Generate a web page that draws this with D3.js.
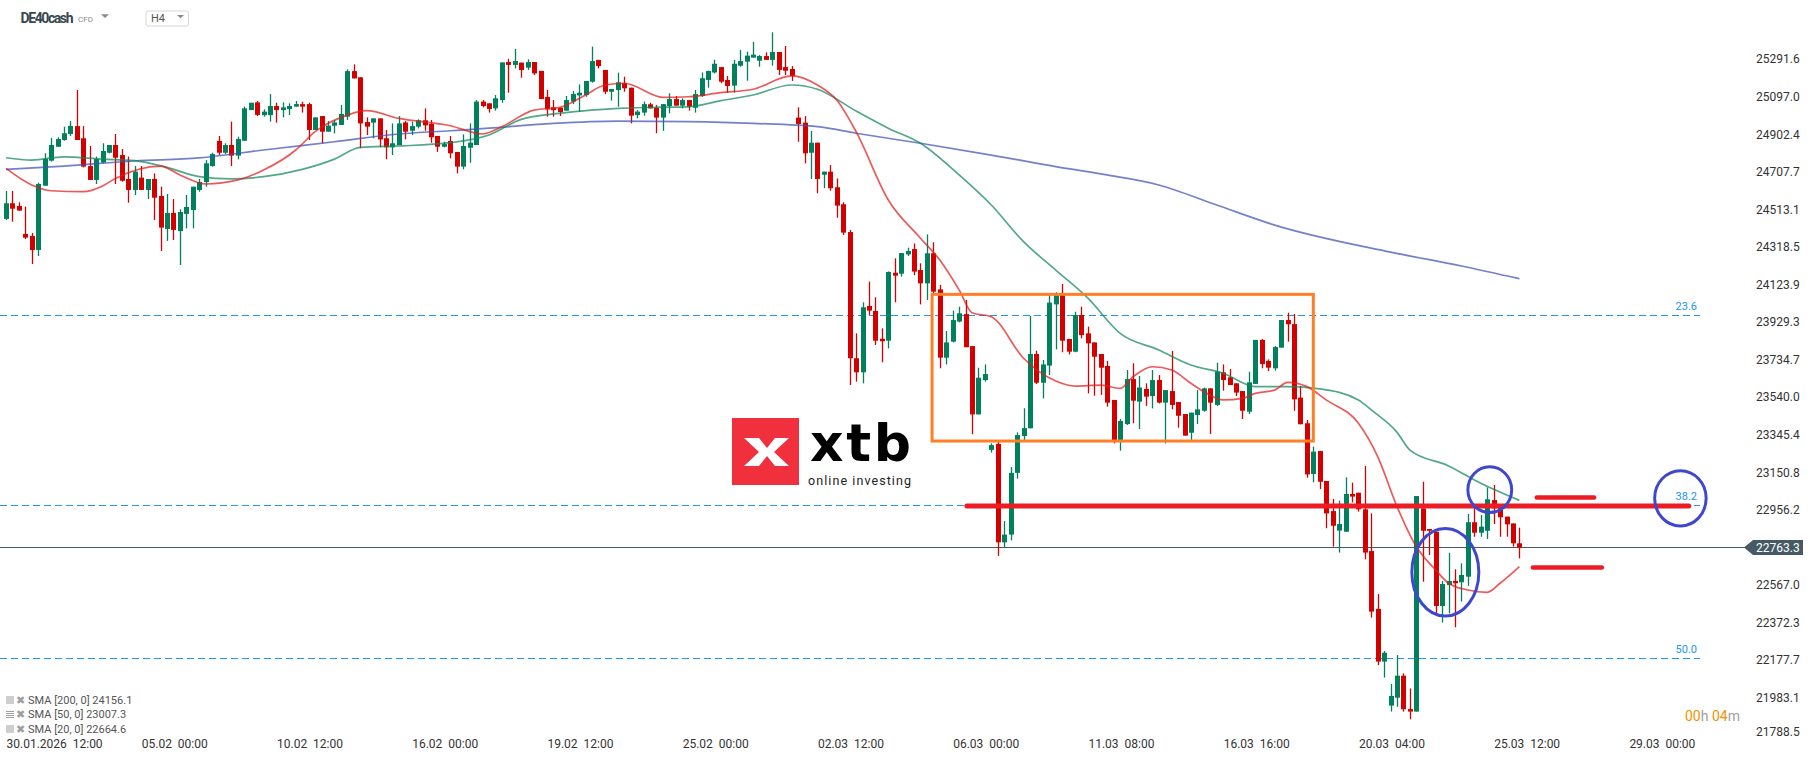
<!DOCTYPE html>
<html>
<head>
<meta charset="utf-8">
<script src="https://cdn.jsdelivr.net/npm/d3@7"></script>
<style>
  body { margin: 0; background: #fff; }
  svg { display: block; font-family: Roboto, "Noto Sans", sans-serif; }
  text { white-space: pre; }
</style>
</head>
<body>
<div id="chart"></div>
<script>
const W = 1816, H = 761;

// DE40cash H4 candles, 30.01.2026 12:00 .. 26.03 04:00
const opens = [
  24466,24547,24533,24388,24378,24305,24638,24768,24840,24875,24906,24947,
  24884,24740,24668,24758,24809,24849,24797,24673,24616,24680,24616,24673,
  24585,24414,24497,24403,24492,24512,24616,24657,24740,24870,24809,24849,
  24794,24871,25030,25070,25004,25004,25051,25030,25035,25048,25061,25061,
  24927,24999,24918,24949,24953,24996,25232,25200,24968,24965,24987,24884,
  24837,24849,24966,24923,24944,24977,24958,24896,24840,24870,24813,24737,
  24835,24849,25074,25065,25039,25082,25279,25264,25276,25250,25279,25233,
  25098,25044,25042,25027,25074,25106,25108,25177,25290,25238,25125,25134,
  25169,25146,25004,25017,25060,25042,24991,25051,25087,25053,25082,25042,
  25103,25186,25225,25253,25186,25157,25260,25281,25302,25286,25310,25290,
  25331,25253,25243,24991,24965,24809,24861,24695,24711,24630,24542,24398,
  23744,23671,24015,23989,23845,23835,24187,24182,24282,24310,24201,24132,
  24288,24101,23747,23830,23934,23973,23807,23453,23631,23269,23300,22790,
  22830,23150,23341,23381,23766,23617,23706,24023,24072,23844,23778,23968,
  23873,23826,23766,23704,23528,23320,23403,23636,23519,23585,23548,23631,
  23514,23574,23517,23455,23358,23450,23472,23588,23502,23671,23645,23614,
  23574,23467,23611,23839,23730,23692,23799,23942,23921,23540,23407,23144,
  23263,23108,22952,22851,22845,23041,23047,22961,22745,22445,22172,21944,
  21985,22099,21926,21913,22966,22859,22845,22460,22569,22590,22583,22612,
  22894,22840,22850,23009,22975,22923,22888,22785
];
const highs = [
  24611,24611,24552,24530,24393,24654,24806,24885,24889,24944,24973,25134,
  24947,24844,24789,24858,24849,24906,24828,24789,24740,24740,24673,24702,
  24633,24595,24569,24516,24590,24633,24673,24771,24809,24896,24858,24970,
  24892,25048,25068,25077,25034,25113,25068,25070,25065,25077,25073,25068,
  24992,24999,24973,24979,25056,25241,25267,25200,24992,24987,24987,24927,
  24961,24999,24973,24970,24982,25039,24979,24896,24866,24896,24813,24904,
  24961,25082,25082,25065,25108,25277,25296,25347,25276,25293,25279,25233,
  25134,25082,25042,25103,25129,25163,25181,25359,25290,25238,25139,25224,
  25203,25146,25030,25074,25068,25056,25061,25117,25103,25091,25082,25134,
  25225,25233,25291,25253,25207,25290,25341,25333,25383,25315,25329,25433,
  25331,25362,25258,25044,24999,24922,24861,24711,24745,24676,24552,24409,
  23873,24034,24141,24060,23899,24194,24262,24289,24317,24339,24236,24386,
  24345,24124,23885,23991,24011,24046,23807,23695,23712,23303,23310,22900,
  23180,23360,23485,23963,23783,23735,24072,24086,24129,23844,23985,24011,
  23908,23826,23766,23730,23528,23429,23683,23718,23652,23614,23683,23657,
  23579,23782,23517,23455,23462,23579,23592,23588,23721,23712,23688,23614,
  23574,23674,23839,23844,23738,23807,23942,23980,23973,23600,23424,23286,
  23263,23108,23015,23006,23127,23099,23047,23186,22940,22522,22227,22056,
  22206,22111,22033,23030,23104,22859,22845,22590,22736,22650,22681,22937,
  22970,22932,23075,23087,22975,22923,22888,22866
];
const lows = [
  24460,24452,24509,24362,24232,24274,24638,24763,24840,24871,24896,24875,
  24733,24668,24647,24754,24806,24647,24659,24550,24590,24616,24569,24460,
  24300,24352,24357,24227,24417,24417,24607,24633,24737,24797,24802,24740,
  24775,24871,25030,24999,24996,24970,24965,24992,25004,25048,25017,24875,
  24927,24858,24918,24909,24953,24979,25194,24832,24901,24884,24837,24775,
  24797,24849,24878,24901,24935,24923,24861,24813,24837,24780,24702,24723,
  24757,24849,25044,25017,25027,25068,25120,25246,25198,25238,25212,25087,
  24996,24996,24999,25027,25061,25020,25099,25172,25246,25113,25079,25048,
  25125,24961,24987,25001,25039,24910,24923,25013,25053,25039,25027,25017,
  25099,25146,25220,25169,25120,25120,25255,25182,25302,25255,25290,25260,
  25212,25212,25181,24866,24754,24673,24599,24625,24612,24472,24383,23605,
  23623,23614,23968,23813,23723,23795,24034,24167,24274,24175,24023,24046,
  24080,23692,23712,23826,23930,23801,23350,23453,23623,23255,22720,22760,
  22800,23120,23320,23381,23610,23536,23657,23790,23775,23764,23775,23847,
  23562,23550,23554,23493,23303,23265,23398,23407,23377,23497,23484,23510,
  23303,23479,23384,23343,23320,23403,23467,23351,23497,23576,23605,23548,
  23429,23455,23611,23692,23678,23680,23799,23830,23472,23402,23125,23101,
  23066,22863,22768,22737,22845,22997,22949,22702,22400,22154,22089,21913,
  21938,21913,21873,21913,22586,22724,22408,22374,22422,22350,22483,22565,
  22819,22819,22807,22885,22819,22819,22768,22707
];
const closes = [
  24547,24519,24509,24369,24305,24647,24777,24849,24880,24910,24948,24875,
  24737,24668,24777,24818,24849,24783,24664,24616,24711,24616,24673,24576,
  24421,24497,24409,24502,24528,24633,24657,24754,24802,24809,24849,24794,
  24880,25039,25068,25005,25022,25051,25030,25044,25051,25061,25048,24927,
  24992,24918,24949,24966,25010,25232,25194,24961,24944,24987,24878,24837,
  24858,24961,24918,24947,24977,24951,24889,24840,24854,24806,24737,24844,
  24861,25074,25051,25036,25091,25277,25264,25284,25238,25279,25220,25087,
  25034,25030,25020,25082,25113,25120,25181,25284,25258,25125,25139,25174,
  25143,25001,25022,25061,25039,24991,25061,25087,25053,25082,25048,25113,
  25195,25233,25270,25177,25155,25270,25284,25312,25317,25310,25290,25331,
  25238,25234,25207,24958,24806,24861,24673,24711,24625,24535,24395,23744,
  23671,24008,23991,23835,23832,24191,24172,24289,24300,24193,24132,24288,
  24089,23747,23826,23942,23977,23801,23453,23643,23662,23294,22790,22830,
  23150,23346,23382,23766,23617,23712,24032,24072,23835,23778,23968,23864,
  23821,23752,23695,23514,23312,23419,23636,23524,23592,23545,23631,23514,
  23579,23502,23446,23343,23462,23479,23588,23514,23674,23631,23605,23566,
  23472,23619,23839,23714,23695,23802,23942,23920,23531,23402,23142,23260,
  23104,22940,22876,22885,23041,23027,22961,22737,22431,22172,22218,21994,
  22099,21925,21913,23030,22850,22850,22460,22574,22590,22578,22621,22894,
  22840,22871,23013,22966,22920,22883,22785,22763.3
];

// moving averages, [candle index, value] read at sample points
const sma200 = [[0,24723],[9,24740],[20,24766],[30,24782],[40,24823],[51,24866],[61,24906],[69,24923],
  [75,24936],[85,24961],[95,24973],[106,24970],[116,24961],[126,24944],[132,24910],[142,24858],
  [153,24797],[163,24737],[170,24699],[179,24642],[188,24538],[197,24434],[215,24294],[226,24222],[235,24156.1]];
const sma50 = [[0,24783],[4,24771],[9,24788],[15,24776],[20,24768],[25,24733],[30,24685],[35,24673],
  [40,24685],[46,24723],[51,24776],[55,24837],[61,24844],[69,24861],[75,24901],[80,24982],[85,25010],
  [90,25027],[95,25039],[100,25044],[106,25047],[111,25079],[116,25108],[122,25160],[126,25138],
  [132,25025],[137,24936],[142,24858],[148,24694],[153,24538],[158,24348],[163,24201],[168,24055],
  [173,23873],[179,23787],[184,23709],[189,23666],[194,23597],[199,23597],[204,23585],[210,23528],
  [212,23476],[216,23360],[218,23268],[224,23186],[229,23096],[235,23007.3]];
const sma20 = [[0,24728],[4,24642],[7,24612],[12,24607],[15,24637],[17,24676],[24,24740],[27,24694],
  [31,24647],[36,24668],[40,24719],[45,24823],[48,24918],[53,25004],[56,25027],[61,24987],[69,24949],
  [74,24906],[77,24944],[82,25030],[86,25044],[90,25108],[93,25160],[96,25169],[102,25096],[106,25099],
  [111,25120],[116,25138],[122,25207],[126,25160],[129,25082],[132,24918],[137,24564],[142,24366],
  [145,24253],[148,24098],[150,23980],[153,23959],[158,23744],[163,23626],[166,23600],[170,23605],
  [173,23588],[175,23648],[178,23700],[181,23683],[184,23614],[186,23571],[189,23528],[192,23536],
  [194,23562],[197,23579],[199,23619],[202,23597],[205,23528],[210,23407],[213,23234],[216,22975],
  [219,22767],[222,22647],[224,22578],[227,22543],[230,22531],[232,22578],[235,22664.6]];
const smaNames = ['SMA [200, 0] 24156.1', 'SMA [50, 0] 23007.3', 'SMA [20, 0] 22664.6'];

const yTicks = [25291.6,25097.0,24902.4,24707.7,24513.1,24318.5,24123.9,23929.3,23734.7,
  23540.0,23345.4,23150.8,22956.2,22567.0,22372.3,22177.7,21983.1,21788.5];
const xTickIdx = [0,21,42,63,84,105,126,147,168,189,210,231,252];
const xTickLabels = ['30.01.2026  12:00','05.02  00:00','10.02  12:00','16.02  00:00','19.02  12:00',
  '25.02  00:00','02.03  12:00','06.03  00:00','11.03  08:00','16.03  16:00','20.03  04:00',
  '25.03  12:00','29.03  00:00'];

// fibonacci levels
const fibNames = ['23.6','38.2','50.0'];
const fibPrices = [23968, 22984, 22189];

// drawn annotations in candle index / price
const boxIdx = [143.8, 203], boxPrice = [24075, 23315];
const redLines = [[149.2, 261.3, 22978, 5], [237.7, 246.6, 23023, 4.5], [237.1, 247.8, 22660, 4.5]];
const ellipses = [[223.5, 22635, 5.2, 227], [230.4, 23063, 3.4, 119], [260, 23018, 4.0, 143]];
const lastPrice = 22763.3;

const x = d3.scaleLinear().domain([0, 235]).range([6, 6 + 235 * 6.44]);
const y = d3.scaleLinear().domain([21788.5, 25291.6]).range([735.6, 59.6]);
const step = x(1) - x(0);
const plotBottom = 732;

const svg = d3.select('#chart').append('svg')
  .attr('width', W).attr('height', H);
svg.append('rect').attr('width', W).attr('height', H).attr('fill', '#fff');

// fib dashed levels
const gFib = svg.append('g');
fibPrices.forEach((p, k) => {
  gFib.append('line')
    .attr('x1', 0).attr('x2', 1700)
    .attr('y1', Math.round(y(p)) + 0.5).attr('y2', Math.round(y(p)) + 0.5)
    .attr('stroke', '#2196F3').attr('stroke-width', 1)
    .attr('stroke-dasharray', '7,4');
  gFib.append('text')
    .attr('x', 1697).attr('y', y(p) - 5)
    .attr('text-anchor', 'end')
    .attr('font-size', 11).attr('fill', '#2196F3')
    .text(fibNames[k]);
});

// last price line
svg.append('line')
  .attr('x1', 0).attr('x2', 1745)
  .attr('y1', Math.round(y(lastPrice)) + 0.5).attr('y2', Math.round(y(lastPrice)) + 0.5)
  .attr('stroke', '#455A64').attr('stroke-width', 1);

// candles
const data = opens.map((o, i) => ({ i, o, h: highs[i], l: lows[i], c: closes[i] }));
const up = '#00805C', down = '#D40000';
const gC = svg.append('g').attr('id', 'candles');
gC.selectAll('line.wick')
  .data(data)
  .join('line')
  .attr('class', 'wick')
  .attr('x1', d => Math.round(x(d.i)) + 0.5)
  .attr('x2', d => Math.round(x(d.i)) + 0.5)
  .attr('y1', d => y(d.h))
  .attr('y2', d => y(d.l))
  .attr('stroke', d => d.c >= d.o ? up : down)
  .attr('stroke-width', 1.3);
gC.selectAll('rect.body')
  .data(data)
  .join('rect')
  .attr('class', 'body')
  .attr('x', d => Math.round(x(d.i)) - 2)
  .attr('width', 5)
  .attr('y', d => y(Math.max(d.o, d.c)))
  .attr('height', d => Math.max(1.5, Math.abs(y(d.o) - y(d.c))))
  .attr('fill', d => d.c >= d.o ? up : down);

// moving averages
const line = d3.line().x(d => x(d[0])).y(d => y(d[1])).curve(d3.curveMonotoneX);
[[sma200, '#3F51B5'], [sma50, '#11875A'], [sma20, '#E21A1A']].forEach(([s, col]) => {
  svg.append('path')
    .attr('d', line(s))
    .attr('fill', 'none')
    .attr('stroke', col)
    .attr('stroke-width', 1.7)
    .attr('stroke-opacity', 0.72);
});

// orange range box
svg.append('rect')
  .attr('x', x(boxIdx[0])).attr('y', y(boxPrice[0]))
  .attr('width', x(boxIdx[1]) - x(boxIdx[0]))
  .attr('height', y(boxPrice[1]) - y(boxPrice[0]))
  .attr('fill', 'none').attr('stroke', '#FF7F27').attr('stroke-width', 3);

// red horizontal marks
redLines.forEach(([a, b, p, w]) => {
  svg.append('line')
    .attr('x1', x(a)).attr('x2', x(b))
    .attr('y1', y(p)).attr('y2', y(p))
    .attr('stroke', '#ED1C24').attr('stroke-width', w)
    .attr('stroke-linecap', 'round');
});

// blue circles
ellipses.forEach(([i, p, ri, rp]) => {
  svg.append('ellipse')
    .attr('cx', x(i)).attr('cy', y(p))
    .attr('rx', ri * step).attr('ry', y(p - rp) - y(p))
    .attr('fill', 'none').attr('stroke', '#3F48CC').attr('stroke-width', 3);
});

// price axis
const yAxis = svg.append('g')
  .attr('transform', 'translate(1752,0)')
  .call(d3.axisRight(y).tickValues(yTicks).tickSize(0).tickPadding(4).tickFormat(d3.format('.1f')));
yAxis.select('.domain').remove();
yAxis.selectAll('.tick')
  .attr('transform', d => `translate(0,${Math.min(y(d), plotBottom)})`);
yAxis.selectAll('text').attr('font-family', 'Roboto').attr('font-size', 12).attr('fill', '#333');

// last price tag
const ly = y(lastPrice);
svg.append('path')
  .attr('d', `M1744,${ly} L1753,${ly - 7.5} L1803,${ly - 7.5} L1803,${ly + 7.5} L1753,${ly + 7.5} Z`)
  .attr('fill', '#455A64');
svg.append('text')
  .attr('x', 1756).attr('y', ly + 4.3)
  .attr('font-size', 12).attr('fill', '#fff')
  .text(d3.format('.1f')(lastPrice));

// time axis
const xAxis = svg.append('g')
  .attr('transform', 'translate(0,737)')
  .call(d3.axisBottom(x).tickValues(xTickIdx).tickSize(0).tickPadding(0)
    .tickFormat((d, k) => xTickLabels[k]));
xAxis.select('.domain').remove();
xAxis.selectAll('text')
  .attr('text-anchor', 'start')
  .attr('font-family', 'Roboto').attr('font-size', 12).attr('fill', '#333')
  .attr('dy', '0.95em');

// indicator legend
const gL = svg.append('g');
smaNames.forEach((t, k) => {
  const yy = 700 + k * 14.5;
  const row = gL.append('g').attr('transform', `translate(6,${yy})`);
  [-3, -1, 1, 3].forEach(dy => row.append('rect')
    .attr('x', 0).attr('y', dy - 0.5).attr('width', 8).attr('height', 1)
    .attr('fill', '#9e9e9e'));
  row.append('text').attr('x', 10).attr('y', 3.8)
    .attr('font-size', 10.5).attr('fill', '#9e9e9e').text('\u2716');
  row.append('text').attr('x', 22).attr('y', 3.8)
    .attr('font-size', 11).attr('fill', '#555').text(t);
});

// countdown
const cd = svg.append('text').attr('x', 1685).attr('y', 721).attr('font-size', 14);
cd.append('tspan').attr('fill', '#F39200').text('00');
cd.append('tspan').attr('fill', '#A0A0A0').text('h ');
cd.append('tspan').attr('fill', '#F39200').text('04');
cd.append('tspan').attr('fill', '#A0A0A0').text('m');

// header
svg.append('text').attr('x', 20.5).attr('y', 23.3)
  .attr('font-size', 14).attr('font-weight', 'bold').attr('fill', '#37474F')
  .attr('textLength', 53).text('DE40cash');
svg.append('text').attr('x', 78).attr('y', 21.7)
  .attr('font-size', 8).attr('fill', '#8a8a8a').text('CFD');
svg.append('path').attr('d', 'M101,14.3 L109,14.3 L105,18 Z').attr('fill', '#8a8a8a');
svg.append('rect').attr('x', 146).attr('y', 11).attr('width', 42.5).attr('height', 15)
  .attr('rx', 2).attr('fill', '#fff').attr('stroke', '#d6d6d6');
svg.append('text').attr('x', 151).attr('y', 22.3)
  .attr('font-size', 11).attr('fill', '#555').text('H4');
svg.append('path').attr('d', 'M177,15 L184,15 L180.5,18.3 Z').attr('fill', '#8a8a8a');

// xtb watermark
const gX = svg.append('g').attr('transform', 'translate(732,418)');
gX.append('rect').attr('width', 67).attr('height', 67).attr('fill', '#F0303C');
gX.append('path')
  .attr('d', 'M12,20 L27,20 L35,30 L43,20 L57,20 L42,34 L57,48 L43,48 L35,38 L27,48 L12,48 L27,34 Z')
  .attr('fill', '#fff');
svg.append('text').attr('x', 810).attr('y', 460.5)
  .attr('font-family', '"DejaVu Sans"').attr('font-weight', 'bold')
  .attr('font-size', 52).attr('fill', '#000').attr('textLength', 101).text('xtb');
svg.append('text').attr('x', 808).attr('y', 484.5)
  .attr('font-size', 12.5).attr('fill', '#222').attr('textLength', 103).text('online investing');
</script>
</body>
</html>
